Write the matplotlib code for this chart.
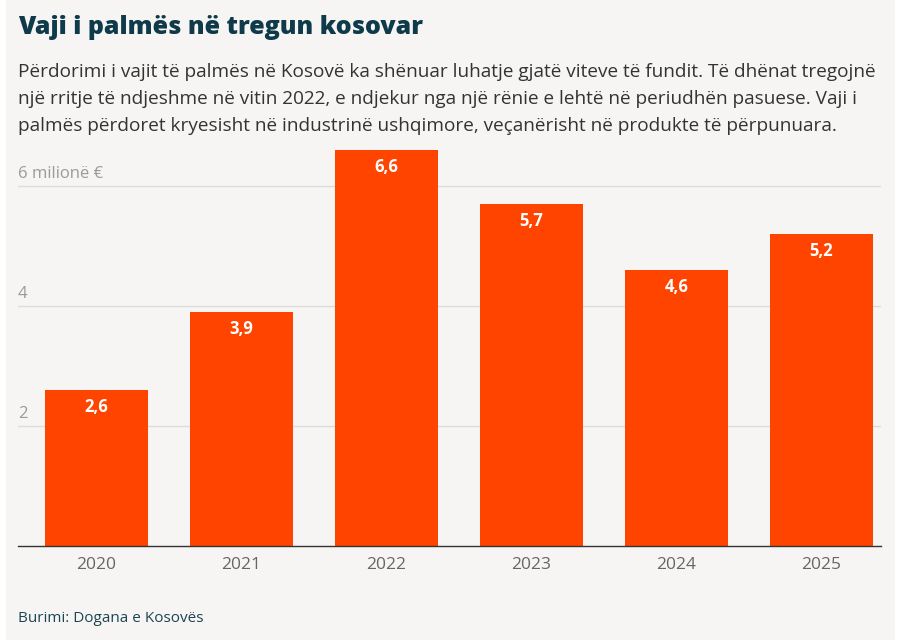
import matplotlib.pyplot as plt
from matplotlib.patches import Rectangle

plt.rcParams['font.family'] = ['Open Sans', 'DejaVu Sans']

years = ['2020', '2021', '2022', '2023', '2024', '2025']
values = [2.6, 3.9, 6.6, 5.7, 4.6, 5.2]
value_labels = ['2,6', '3,9', '6,6', '5,7', '4,6', '5,2']
y_ticks = [2, 4, 6]
y_tick_labels = ['2', '4', '6 milionë €']

title = 'Vaji i palmës në tregun kosovar'
subtitle = ('Përdorimi i vajit të palmës në Kosovë ka shënuar luhatje gjatë viteve të fundit. Të dhënat tregojnë\n'
            'një rritje të ndjeshme në vitin 2022, e ndjekur nga një rënie e lehtë në periudhën pasuese. Vaji i\n'
            'palmës përdoret kryesisht në industrinë ushqimore, veçanërisht në produkte të përpunuara.')
source = 'Burimi: Dogana e Kosovës'

bg = '#f6f5f3'
bar_color = '#ff4400'
W, H = 900, 640

fig = plt.figure(figsize=(9, 6.4), dpi=100, facecolor=bg)
# thin white borders at the sides
fig.patches.append(Rectangle((0, 0), 5 / W, 1, transform=fig.transFigure, color='white', zorder=-1))
fig.patches.append(Rectangle((1 - 5 / W, 0), 5 / W, 1, transform=fig.transFigure, color='white', zorder=-1))

# axes: x 18..881 px, y baseline 546, top at 150 (=6.6)
ax = fig.add_axes([18 / W, 1 - 546 / H, (881 - 18) / W, (546 - 150) / H])
ax.set_facecolor(bg)
x = list(range(len(years)))
ax.bar(x, values, width=0.71, color=bar_color, zorder=2)
ax.set_xlim(-0.541, 5.41)
ax.set_ylim(0, 6.6)

for xi, v, lab in zip(x, values, value_labels):
    ax.annotate(lab, (xi, v), xytext=(0, -17), textcoords='offset pixels',
                ha='center', va='center', color='white', fontsize=12, fontweight='bold', zorder=3)

for t, lab in zip(y_ticks, y_tick_labels):
    ax.axhline(t, color='#dedcda', lw=1, zorder=1)
    ax.annotate(lab, (0, t), xycoords=('axes fraction', 'data'), xytext=(0, 4),
                textcoords='offset pixels', ha='left', va='bottom', color='#9a9a9a', fontsize=12)

for s in ['top', 'right', 'left']:
    ax.spines[s].set_visible(False)
ax.spines['bottom'].set_color('#333333')
ax.spines['bottom'].set_linewidth(1)
ax.spines['bottom'].set_zorder(4)
ax.set_yticks([])
ax.set_xticks(x)
ax.set_xticklabels(years, color='#666666', fontsize=12.5)
ax.tick_params(axis='x', length=0, pad=8)

fig.text(18 / W, 1 - 28 / H, title, ha='left', va='center', fontsize=18, fontweight='heavy', color='#0e3a4a')
fig.text(18 / W, 1 - 63 / H, subtitle, ha='left', va='top', fontsize=13.7, color='#333333', linespacing=1.66)
fig.text(18 / W, 1 - 619 / H, source, ha='left', va='center', fontsize=11, color='#1c4455')

fig.savefig('out.png', dpi=100, facecolor=bg)
